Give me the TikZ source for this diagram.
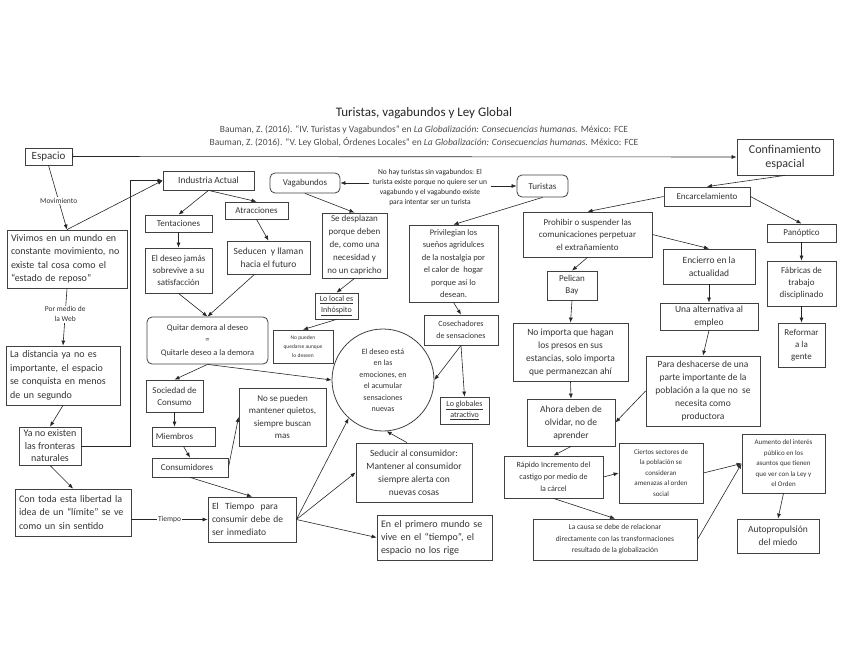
\documentclass[tikz,border=0pt]{standalone}
\usepackage{fontspec}
\setmainfont{Carlito}
\usetikzlibrary{arrows.meta}
\newcommand{\fs}[2]{\fontsize{#1}{#2}\selectfont}
\newcommand{\jl}[1]{\makebox[\linewidth][s]{#1}}

\begin{document}
\begin{tikzpicture}[x=1pt, y=-1pt,
  box/.style={draw=black!75, line width=0.8pt, inner sep=2pt, align=center, text=black!80, font=\fs{9}{12}},
  rbox/.style={box, rounded corners=5pt},
  lbl/.style={fill=white, inner sep=1pt, text=black!80, font=\fs{7.5}{9.5}, align=center},
  arr/.style={-{Latex[length=5pt,width=4pt]}, black!85, line width=0.6pt}]
\useasboundingbox (0,0) rectangle (848,655);

% encabezado
\node[font=\fs{13}{15}, text=black!85] (titulo) at (424,113) {Turistas, vagabundos y Ley Global};
\node[font=\fs{9.5}{13}, align=center, text=black!70] (refs) at (424,136.5) {Bauman, Z. (2016). ``IV. Turistas y Vagabundos'' en \textit{La Globalización: Consecuencias humanas.} México: FCE\\Bauman, Z. (2016). ``V. Ley Global, Órdenes Locales'' en \textit{La Globalización: Consecuencias humanas.} México: FCE};

% columna izquierda
\node[box, minimum width=47, minimum height=17, font=\fs{11}{13}] (espacio) at (48.5,156.5) {Espacio};
\node[box, minimum width=96, minimum height=36, font=\fs{12}{14}] (confin) at (785,157) {Confinamiento\\espacial};
\node[box, text width=112, minimum height=58, inner sep=4pt, font=\fs{10}{13.5}] (vivimos) at (67,259) {\jl{Vivimos en un mundo en}\\\jl{constante movimiento, no}\\\jl{existe tal cosa como el}\\``estado de reposo''\hfill\null};
\node[box, text width=106, minimum height=59, inner sep=4pt, font=\fs{10}{13.5}] (distancia) at (63,375.5) {\jl{La distancia ya no es}\\\jl{importante, el espacio}\\\jl{se conquista en menos}\\de un segundo\hfill\null};
\node[box, minimum width=62, minimum height=38, font=\fs{10}{12.5}] (yano) at (50,446) {Ya no existen\\las fronteras\\naturales};
\node[box, text width=108, minimum height=47, inner sep=4pt, font=\fs{10}{13.5}] (contoda) at (73,512.5) {\jl{Con toda esta libertad la}\\\jl{idea de un ``límite'' se ve}\\como un sin sentido\hfill\null};

% industria
\node[box, minimum width=91, minimum height=19, font=\fs{9.5}{12}] (industria) at (208.5,180.5) {Industria Actual};
\node[box, minimum width=67, minimum height=17] (tentaciones) at (178.5,223.5) {Tentaciones};
\node[box, minimum width=63, minimum height=17] (atracciones) at (256.5,210.5) {Atracciones};
\node[box, minimum width=67, minimum height=45] (eldeseo) at (178.5,270.5) {El deseo jamás\\sobrevive a su\\satisfacción};
\node[box, minimum width=83, minimum height=33, font=\fs{9.5}{13}] (seducen) at (268.5,257.5) {Seducen \ y llaman\\hacia el futuro\hspace{13pt}};
\node[rbox, minimum width=121, minimum height=47, font=\fs{8.5}{12.5}] (quitar) at (207.5,340.5) {Quitar demora al deseo\\=\\Quitarle deseo a la demora};
\node[box, minimum width=57, minimum height=32] (sociedad) at (174.5,396) {Sociedad de\\Consumo};
\node[box, minimum width=63, minimum height=19] (miembros) at (183.5,436.5) {Miembros\hspace{18pt}};
\node[box, minimum width=76, minimum height=19] (consumidores) at (190,467.5) {Consumidores\hspace{6pt}};
\node[box, minimum width=87, minimum height=58, font=\fs{9}{12.5}] (nose) at (282.5,417) {No se pueden\\mantener quietos,\\siempre buscan\\mas};
\node[box, text width=80, minimum height=45, inner sep=4pt, font=\fs{9.5}{13}] (eltiempo) at (252,519.5) {\jl{El \ Tiempo \ para}\\\jl{consumir debe de}\\ser inmediato\hfill\null};

% vagabundos y turistas
\node[rbox, minimum width=70, minimum height=20] (vagabundos) at (305,183) {Vagabundos};
\node[font=\fs{7.5}{10.3}, align=center, text=black!85] (nota) at (430,187.5) {No hay turistas sin vagabundos: El\\turista existe porque no quiere ser un\\vagabundo y el vagabundo existe\\para intentar ser un turista};
\node[rbox, minimum width=51, minimum height=22] (turistas) at (542.5,186) {Turistas};
\node[box, minimum width=65, minimum height=65, font=\fs{9}{13}] (desplazan) at (354.5,245.5) {Se desplazan\\porque deben\\de, como una\\necesidad y\\no un capricho};
\node[box, minimum width=43, minimum height=26, font=\fs{8}{11}] (lolocal) at (336.5,306) {\underline{Lo local es}\\\underline{Inhóspito}};
\node[box, minimum width=60, minimum height=33, font=\fs{5.5}{9}] (nopueden) at (303,346.5) {No pueden\\quedarse aunque\\lo deseen};
\node[circle, draw=black!75, line width=0.8pt, minimum size=102, align=center, text=black!80, font=\fs{8}{11.5}] (circ) at (383,380) {El deseo está\\en las\\emociones, en\\el acumular\\sensaciones\\nuevas};
\node[box, minimum width=89, minimum height=77, font=\fs{8.5}{12.5}] (privilegian) at (453.5,263.5) {Privilegian los\\sueños agridulces\\de la nostalgia por\\el calor de \ hogar\\porque así lo\\desean.};
\node[box, minimum width=74, minimum height=30, font=\fs{8}{12}] (cosechadores) at (461,330) {Cosechadores\\de sensaciones};
\node[box, minimum width=49, minimum height=27, font=\fs{8}{11}] (loglobales) at (464.5,410.5) {\underline{Lo globales}\\\underline{atractivo}};
\node[box, minimum width=116, minimum height=59, font=\fs{9.5}{13}] (seducir) at (414,472.5) {Seducir al consumidor:\\Mantener al consumidor\\siempre alerta con\\nuevas cosas};
\node[box, text width=107, minimum height=45, inner sep=4pt, font=\fs{10}{13}] (primero) at (434.5,537.5) {\jl{En el primero mundo se}\\\jl{vive en el ``tiempo'', el}\\espacio no los rige\hfill\null};

% confinamiento
\node[box, minimum width=86, minimum height=19] (encarcel) at (707,196.5) {Encarcelamiento};
\node[box, minimum width=69, minimum height=18] (panoptico) at (801.5,233) {Panóptico};
\node[box, minimum width=69, minimum height=45] (fabricas) at (801.5,283.5) {Fábricas de\\trabajo\\disciplinado};
\node[box, minimum width=47, minimum height=44] (reformar) at (801.5,345) {Reformar\\a la\\gente};
\node[box, minimum width=129, minimum height=45, font=\fs{9}{12.5}] (prohibir) at (587.5,234.5) {Prohibir o suspender las\\comunicaciones perpetuar\\el extrañamiento};
\node[box, minimum width=50, minimum height=29] (pelican) at (572,285.5) {Pelican\\Bay};
\node[box, minimum width=115, minimum height=58, font=\fs{9.5}{13}] (noimporta) at (570.5,352) {No importa que hagan\\los presos en sus\\estancias, solo importa\\que permanezcan ahí};
\node[box, minimum width=92, minimum height=35, font=\fs{9.5}{13}] (encierro) at (709,266.5) {Encierro en la\\actualidad};
\node[box, minimum width=98, minimum height=27, font=\fs{9.5}{12.5}] (alternativa) at (709,316.5) {Una alternativa al\\empleo};
\node[box, minimum width=114, minimum height=70, font=\fs{9.5}{13}] (para) at (703,391) {Para deshacerse de una\\parte importante de la\\población a la que no \ se\\necesita como\\productora};
\node[box, minimum width=88, minimum height=47, font=\fs{9.5}{13}] (ahora) at (571,422.5) {Ahora deben de\\olvidar, no de\\aprender};
\node[box, minimum width=99, minimum height=42, font=\fs{8}{12}] (rapido) at (553.5,477) {Rápido Incremento del\\castigo por medio de\\la cárcel};
\node[box, minimum width=84, minimum height=60, font=\fs{7}{10.5}] (ciertos) at (661,473) {Ciertos sectores de\\la población se\\consideran\\amenazas al orden\\social};
\node[box, minimum width=164, minimum height=41, font=\fs{7.5}{11.5}] (lacausa) at (615,539.5) {La causa se debe de relacionar\\directamente con las transformaciones\\resultado de la globalización};
\node[box, minimum width=83, minimum height=59, font=\fs{7}{10.5}] (aumento) at (783.5,463.5) {Aumento del interés\\público en los\\asuntos que tienen\\que ver con la Ley y\\el Orden};
\node[box, minimum width=82, minimum height=34, font=\fs{9.5}{13}] (autoprop) at (778,536) {Autopropulsión\\del miedo};

% conectores
\draw [{Bar[width=6pt]}-{Latex[length=5pt,width=4pt]}, black!85, line width=0.6pt] (espacio.east) -- (confin.west);
\draw [arr] (espacio.south) -- node[lbl, pos=0.55] {Movimiento} (vivimos.north);
\draw [arr] (vivimos.north) -- (industria.west);
\coordinate (bend) at (130,180.5);
\draw [arr] (yano.east) -| (bend) -- (industria.west);
\draw [arr] (vivimos.south) -- node[lbl, pos=0.45] {Por medio de\\la Web} (distancia.north);
\draw [arr] (distancia.south) -- (yano.north);
\draw [arr] (yano.south) -- (contoda.north);
\draw [arr] (contoda.east |- eltiempo.west) -- node[lbl] {Tiempo} (eltiempo.west);
\draw [arr] (industria.south) -- (tentaciones.north);
\draw [arr] (industria.south) -- (atracciones.north);
\draw [arr] (tentaciones.south) -- (eldeseo.north);
\draw [arr] (atracciones.south) -- (seducen.north);
\draw [arr] (eldeseo.south) -- (quitar.north);
\draw [arr] ([xshift=-14pt]seducen.south) -- (quitar.north);
\draw [arr] (quitar.south) -- (sociedad.north);
\draw [arr] (quitar.south) -- (circ.west);
\draw [arr] (sociedad.south) -- (sociedad.south |- miembros.north);
\draw [arr] (miembros.south) -- (consumidores.north);
\draw [arr] (consumidores.east) -- (nose.west);
\draw [arr] (consumidores.south) -- (eltiempo.north);
\draw [arr] (eltiempo.east) -- (circ.228);
\draw [arr] (eltiempo.east) -- (seducir.west);
\draw [arr] (eltiempo.east) -- (primero.west);
\draw [arr] ([xshift=-7pt]seducir.north) -- (circ.274);
\draw [arr] (nota.west |- vagabundos.east) -- (vagabundos.east);
\draw [arr] (nota.east |- turistas.west) -- (turistas.west);
\draw [arr] (vagabundos.south) -- (desplazan.north);
\draw [arr] (desplazan.south) -- (lolocal.north);
\draw [arr] (lolocal.south) -- (nopueden.north);
\draw [arr] (turistas.south) -- (privilegian.north);
\draw [arr] (privilegian.south) -- (cosechadores.north);
\draw [arr] (cosechadores.south) -- (loglobales.north);
\draw [arr] (cosechadores.south) -- (circ.east);
\draw [arr] (confin.south) -- (encarcel.north);
\draw [arr] (encarcel.east) -- (panoptico.north);
\draw [arr] (panoptico.south) -- (fabricas.north);
\draw [arr] (fabricas.south) -- (reformar.north);
\draw [arr] (encarcel.west) -- (prohibir.north);
\draw [arr] (prohibir.east) -- (encierro.north);
\draw [arr] (prohibir.south) -- (pelican.north);
\draw [arr] (pelican.south) -- (noimporta.north);
\draw [arr] (encierro.south) -- (alternativa.north);
\draw [arr] (alternativa.south) -- (para.north);
\draw [arr] (para.west) -- (ahora.east);
\draw [arr] (noimporta.south) -- (ahora.north);
\draw [arr] (ahora.south) -- (rapido.north);
\draw [arr] (rapido.east) -- (ciertos.west);
\draw [arr] (rapido.south) -- (lacausa.north);
\draw [arr] (ciertos.east) -- (aumento.west);
\draw [arr] (lacausa.east) -- (aumento.west);
\draw [arr] (aumento.south) -- (autoprop.north);
\end{tikzpicture}
\end{document}
